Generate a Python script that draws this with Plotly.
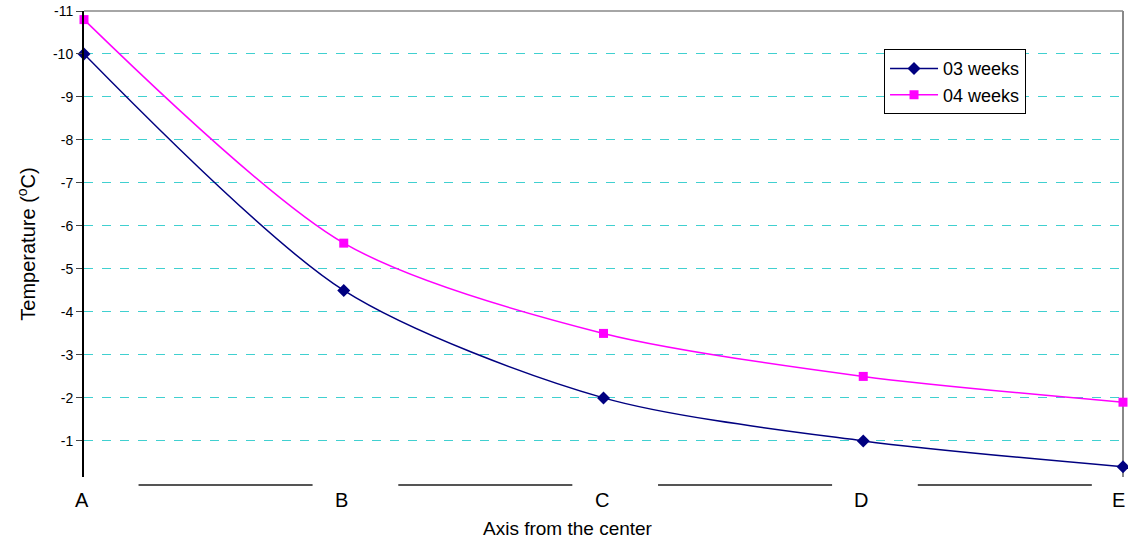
import plotly.graph_objects as go

categories = ["A", "B", "C", "D", "E"]
weeks03 = [-10.0, -4.5, -2.0, -1.0, -0.4]
weeks04 = [-10.8, -5.6, -3.5, -2.5, -1.9]
y_ticks = [-11, -10, -9, -8, -7, -6, -5, -4, -3, -2, -1]

xpos = list(range(len(categories)))

fig = go.Figure()
fig.add_trace(go.Scatter(
    x=xpos, y=weeks03, name="03 weeks", mode="lines+markers",
    line=dict(color="#000080", width=1.5, shape="spline", smoothing=0.8),
    marker=dict(symbol="diamond", size=10, color="#000080"),
    cliponaxis=False,
))
fig.add_trace(go.Scatter(
    x=xpos, y=weeks04, name="04 weeks", mode="lines+markers",
    line=dict(color="#ff00ff", width=1.5, shape="spline", smoothing=0.8),
    marker=dict(symbol="square", size=9, color="#ff00ff"),
    cliponaxis=False,
))

shapes = []
# top and right borders
shapes.append(dict(type="line", xref="paper", yref="paper", x0=0, x1=1, y0=1, y1=1,
                   line=dict(color="#888888", width=1.5), layer="below"))
shapes.append(dict(type="line", xref="paper", yref="paper", x0=1, x1=1, y0=0, y1=1,
                   line=dict(color="#888888", width=2), layer="below"))
# broken baseline segments between category labels
for i in range(len(categories) - 1):
    shapes.append(dict(type="line", xref="x", yref="paper", x0=i + 0.21, x1=i + 0.88,
                       y0=-0.017, y1=-0.017, line=dict(color="#555555", width=2)))

# category labels as annotations (so the last one at the edge is not dropped)
annotations = []
n = len(categories)
for i, c in enumerate(categories):
    annotations.append(dict(x=i, y=-0.049, xref="x", yref="paper", text=c,
                            showarrow=False, xanchor="center", yanchor="middle",
                            xshift=(-5 if i == n - 1 else -2),
                            font=dict(size=20)))
annotations.append(dict(x=0.466, y=-0.11, xref="paper", yref="paper",
                        text="Axis from the center", showarrow=False,
                        xanchor="center", yanchor="middle", font=dict(size=19)))

fig.update_layout(
    width=1128, height=544,
    margin=dict(l=84, r=5, t=11, b=67),
    plot_bgcolor="white", paper_bgcolor="white",
    font=dict(family="Liberation Sans, Arial, sans-serif", color="#000000"),
    showlegend=True,
    legend=dict(x=0.77, y=0.918, xanchor="left", yanchor="top",
                bordercolor="#000000", borderwidth=1, bgcolor="white",
                font=dict(size=18), tracegroupgap=4, itemwidth=48),
    shapes=shapes,
    annotations=annotations,
    xaxis=dict(
        range=[0, 4], tickvals=xpos, showticklabels=False,
        showgrid=False, zeroline=False, showline=False, automargin=False,
        ticks="",
    ),
    yaxis=dict(
        range=[-0.16, -11], tickvals=y_ticks, ticktext=[str(v) for v in y_ticks],
        showgrid=True, gridcolor="#40d0d0", griddash="dash", gridwidth=1,
        zeroline=False, showline=True, linecolor="#000000", linewidth=2,
        ticks="outside", ticklen=6, tickcolor="#444444", tickfont=dict(size=14),
        automargin=False,
        title=dict(text="Temperature (<sup>o</sup>C)", font=dict(size=20), standoff=12),
    ),
)

fig.write_html(
    "out.html",
    config={"displayModeBar": False},
    post_script="document.body.style.margin='0';document.body.style.overflow='hidden';",
)
